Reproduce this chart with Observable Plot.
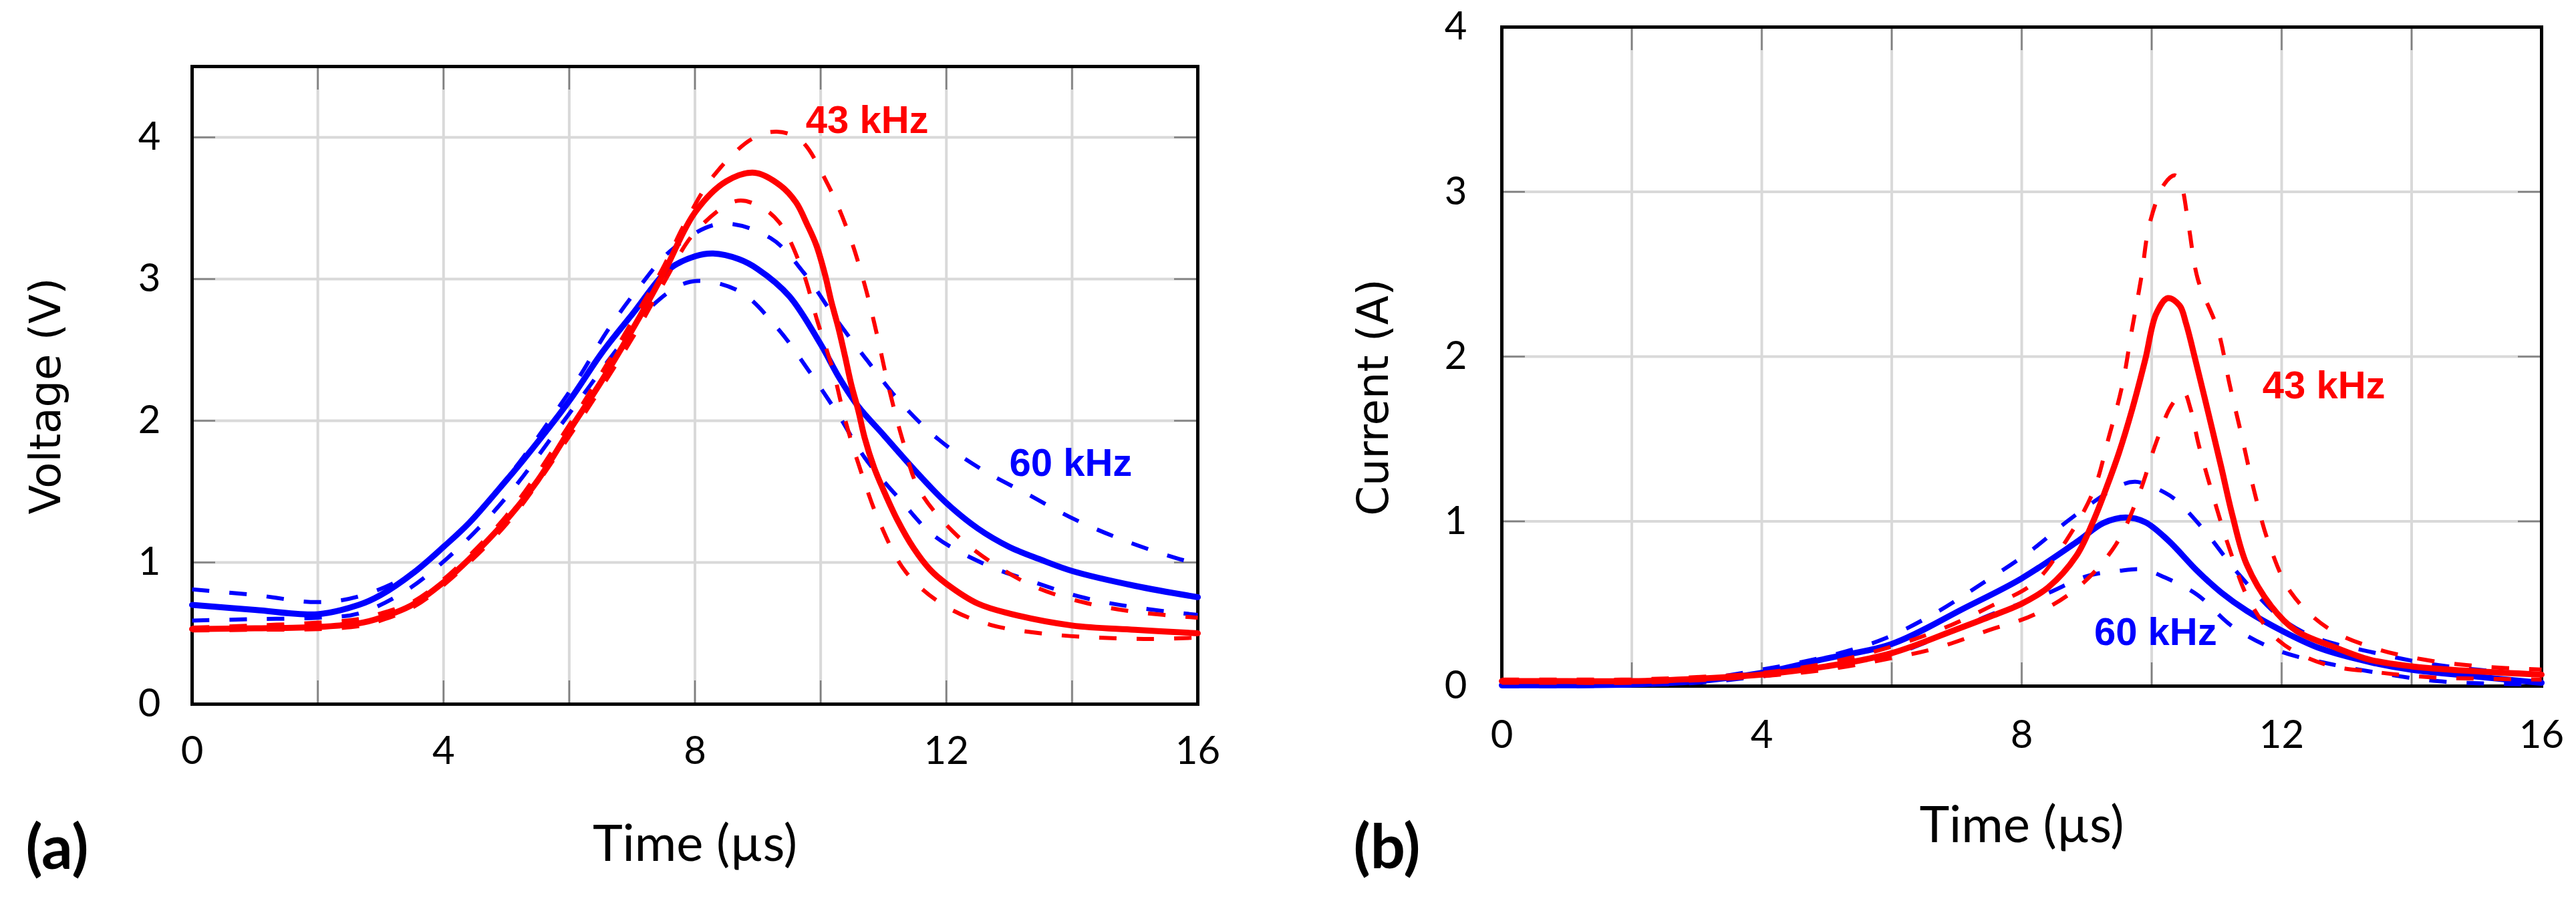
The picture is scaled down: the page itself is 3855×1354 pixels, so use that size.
<!DOCTYPE html>
<html><head><meta charset="utf-8">
<script src="https://cdn.jsdelivr.net/npm/d3@7"></script>
<script src="https://cdn.jsdelivr.net/npm/@observablehq/plot@0.6"></script>
<style>
html,body{margin:0;padding:0;background:#fff;}
#wrap{display:flex;width:3855px;height:1354px;overflow:hidden;}
#wrap svg{flex:none;}
</style></head><body><div id="wrap"></div>
<script>
// ---- tick values / labels ----
const xTickLabels = [0, 4, 8, 12, 16];
const xGridValues = [2, 4, 6, 8, 10, 12, 14];
const voltageTickLabels = [0, 1, 2, 3, 4];
const voltageGridValues = [1, 2, 3, 4];
const currentTickLabels = [0, 1, 2, 3, 4];
const currentGridValues = [1, 2, 3];
const frequencies = ["43 kHz", "60 kHz"];

// ---- (a) Voltage (V) vs time (µs) ----
const voltage43Mean = [[0,0.53],[1,0.535],[2,0.545],[2.65,0.57],[3,0.61],[3.5,0.70],[4,0.86],[4.4,1.02],[5,1.30],[5.5,1.58],[6,1.93],[6.5,2.27],[7,2.64],[7.5,3.04],[8,3.47],[8.5,3.69],[8.95,3.75],[9.36,3.66],[9.61,3.54],[9.78,3.39],[9.93,3.24],[10.07,3.03],[10.17,2.84],[10.28,2.66],[10.39,2.45],[10.49,2.25],[10.6,2.07],[10.7,1.88],[10.85,1.67],[11,1.51],[11.22,1.30],[11.48,1.10],[11.74,0.95],[12,0.85],[12.5,0.71],[13,0.64],[14,0.555],[15,0.525],[16,0.50]];
const voltage43Upper = [[0,0.54],[1,0.555],[2,0.575],[2.65,0.60],[3,0.64],[3.5,0.72],[4,0.88],[5,1.33],[6,1.97],[7,2.70],[7.48,3.07],[7.86,3.41],[8.3,3.73],[8.91,3.99],[9.3,4.04],[9.68,3.98],[10.1,3.68],[10.44,3.33],[10.7,2.96],[10.9,2.60],[11.08,2.24],[11.3,1.87],[11.56,1.52],[12.1,1.22],[12.72,1.00],[13.45,0.82],[14.26,0.71],[15.03,0.65],[16,0.61]];
const voltage43Lower = [[0,0.52],[1,0.525],[2,0.53],[2.65,0.55],[3,0.59],[3.5,0.68],[4,0.84],[5,1.27],[6,1.89],[7,2.58],[7.5,2.97],[8,3.33],[8.65,3.55],[9,3.52],[9.34,3.40],[9.71,3.06],[9.95,2.70],[10.2,2.35],[10.4,1.99],[10.65,1.63],[10.94,1.28],[11.36,0.93],[11.99,0.69],[12.7,0.56],[13.5,0.50],[14.4,0.47],[15.3,0.46],[16,0.47]];
const voltage60Mean = [[0,0.70],[1,0.665],[2,0.635],[2.65,0.70],[3,0.77],[3.53,0.93],[4,1.11],[4.41,1.28],[5,1.58],[5.3,1.74],[6,2.14],[6.52,2.48],[7,2.75],[7.59,3.07],[8,3.16],[8.29,3.18],[8.7,3.14],[9,3.07],[9.5,2.88],[10,2.54],[10.3,2.30],[10.6,2.10],[11,1.90],[11.5,1.65],[12,1.42],[12.5,1.24],[13,1.11],[13.5,1.02],[14,0.94],[15,0.835],[16,0.755]];
const voltage60Upper = [[0,0.81],[1,0.77],[2,0.72],[2.65,0.76],[3.44,0.91],[4.1,1.15],[4.68,1.42],[5.23,1.72],[5.7,2.01],[6.16,2.31],[6.6,2.63],[7.09,2.93],[7.64,3.21],[8.4,3.39],[9.2,3.29],[9.74,3.04],[10.24,2.72],[10.75,2.42],[11.27,2.13],[11.87,1.87],[12.55,1.66],[13.3,1.48],[14.06,1.30],[14.86,1.15],[15.66,1.03],[16,0.99]];
const voltage60Lower = [[0,0.59],[1,0.60],[2,0.61],[2.65,0.64],[3.4,0.80],[4.06,1.03],[4.66,1.29],[5.2,1.57],[5.7,1.87],[6.2,2.17],[6.75,2.50],[7.29,2.80],[7.92,2.98],[8.68,2.92],[9.3,2.66],[9.8,2.36],[10.27,2.05],[10.7,1.74],[11.27,1.44],[11.8,1.19],[12.6,0.99],[13.4,0.86],[14.2,0.75],[15.05,0.68],[16,0.63]];

// ---- (b) Current (A) vs time (µs) ----
const current43Mean = [[0,0.03],[1,0.03],[2,0.03],[3,0.045],[4,0.07],[5,0.12],[6,0.20],[7,0.345],[7.5,0.42],[8,0.50],[8.41,0.60],[8.84,0.79],[9.1,1.0],[9.3,1.2],[9.5,1.42],[9.7,1.68],[9.9,1.98],[10.07,2.26],[10.25,2.355],[10.43,2.31],[10.53,2.2],[10.66,2.0],[10.87,1.66],[11.07,1.33],[11.24,1.04],[11.46,0.74],[11.84,0.485],[12.22,0.337],[12.79,0.24],[13.36,0.16],[14,0.12],[14.9,0.092],[16,0.07]];
const current43Upper = [[0,0.04],[1,0.04],[2,0.04],[3,0.055],[4,0.08],[5,0.14],[6,0.24],[6.76,0.345],[7.5,0.48],[8.2,0.63],[8.68,0.88],[9.1,1.18],[9.34,1.51],[9.55,1.83],[9.69,2.15],[9.84,2.48],[9.97,2.81],[10.2,3.05],[10.36,3.10],[10.45,3.05],[10.57,2.79],[10.71,2.47],[11.02,2.16],[11.2,1.83],[11.39,1.51],[11.58,1.18],[11.8,0.87],[12.14,0.57],[12.7,0.355],[13.43,0.23],[14.2,0.16],[15.05,0.12],[16,0.10]];
const current43Lower = [[0,0.02],[1,0.02],[2,0.02],[3,0.035],[4,0.06],[5,0.10],[6,0.17],[6.68,0.23],[7.5,0.34],[8.2,0.435],[8.9,0.61],[9.45,0.86],[9.81,1.17],[10.07,1.48],[10.3,1.70],[10.49,1.785],[10.6,1.68],[10.72,1.47],[10.94,1.16],[11.2,0.83],[11.5,0.52],[11.96,0.275],[12.65,0.134],[13.45,0.085],[14.25,0.055],[15,0.045],[16,0.04]];
const current60Mean = [[0,0.005],[1,0.005],[2,0.01],[3,0.03],[4,0.08],[5,0.168],[6,0.256],[7.13,0.476],[8,0.654],[8.84,0.873],[9.26,0.99],[9.6,1.023],[9.9,0.995],[10.25,0.886],[10.7,0.70],[11.07,0.568],[11.46,0.458],[12,0.337],[12.6,0.228],[13.36,0.146],[14,0.099],[15,0.058],[15.87,0.024],[16,0.02]];
const current60Upper = [[0,0.01],[1,0.01],[2,0.015],[3,0.04],[4,0.10],[5.1,0.19],[5.9,0.29],[6.7,0.45],[7.34,0.61],[8.1,0.81],[8.8,1.03],[9.48,1.21],[9.75,1.24],[10.2,1.175],[10.4,1.12],[10.8,0.95],[11.36,0.67],[12,0.41],[12.55,0.29],[13.4,0.205],[14.2,0.14],[15,0.10],[16,0.07]];
const current60Lower = [[0,0.0],[1,0.0],[2,0.005],[3,0.02],[4,0.06],[5,0.11],[6,0.19],[6.8,0.31],[7.5,0.43],[8.36,0.557],[9,0.667],[9.5,0.70],[9.87,0.707],[10.2,0.66],[10.7,0.555],[11.25,0.36],[11.95,0.215],[12.8,0.13],[13.6,0.073],[14.4,0.03],[15.2,0.015],[16,0.01]];

// ---- annotations (data coordinates) ----
const voltageNotes = [{t:10.74, v:4.12, label:"43 kHz"}, {t:13.98, v:1.70, label:"60 kHz"}];
const currentNotes = [{t:12.65, v:1.82, label:"43 kHz"}, {t:10.06, v:0.325, label:"60 kHz"}];

const colorOf = {"43 kHz": "#ff0000", "60 kHz": "#0000ff"};
const toRows = (pairs, freq, kind) => pairs.map(([t, v]) => ({t, v, freq, kind}));

function makePanel(cfg) {
  const {width, height, mL, mR, mT, mB, yMax, yTicks, yGrid, groups, notes,
         yLabel, ylabDx, ylabDy, xlabDy, tag, tagDx, tagDy, xPad, yPad} = cfg;
  const innerW = width - mL - mR, innerH = height - mT - mB;
  const tickStyle = {stroke: "#7f7f7f", strokeWidth: 2.5, strokeOpacity: 1};
  const lineMarks = [];
  for (const g of groups) {
    lineMarks.push(Plot.line(toRows(g.upper, g.freq, "upper"), {x: "t", y: "v", curve: "catmull-rom", stroke: colorOf[g.freq], strokeWidth: 6, strokeDasharray: "26,30", strokeLinecap: "butt"}));
    lineMarks.push(Plot.line(toRows(g.lower, g.freq, "lower"), {x: "t", y: "v", curve: "catmull-rom", stroke: colorOf[g.freq], strokeWidth: 6, strokeDasharray: "26,30", strokeLinecap: "butt"}));
    lineMarks.push(Plot.line(toRows(g.mean, g.freq, "mean"), {x: "t", y: "v", curve: "catmull-rom", stroke: colorOf[g.freq], strokeWidth: 9}));
  }
  return Plot.plot({
    width, height,
    marginLeft: mL, marginRight: mR, marginTop: mT, marginBottom: mB,
    style: {fontFamily: "Lato, 'Open Sans', sans-serif", fontSize: "58px", color: "#000", background: "#fff", overflow: "visible"},
    x: {domain: [0, 16]},
    y: {domain: [0, yMax]},
    marks: [
      Plot.gridX(xGridValues, {stroke: "#d9d9d9", strokeOpacity: 1, strokeWidth: 4}),
      Plot.gridY(yGrid, {stroke: "#d9d9d9", strokeOpacity: 1, strokeWidth: 4}),
      Plot.ruleX(xGridValues, {...tickStyle, insetTop: innerH - 35}),
      Plot.ruleX(xGridValues, {...tickStyle, insetBottom: innerH - 35}),
      Plot.ruleY(yGrid, {...tickStyle, insetRight: innerW - 35}),
      Plot.ruleY(yGrid, {...tickStyle, insetLeft: innerW - 35}),
      Plot.frame({stroke: "#000", strokeWidth: 5}),
      Plot.axisX(xTickLabels, {tickSize: 0, tickPadding: xPad, tickFormat: d => String(d), fontSize: 58, fontFamily: "Lato", fill: "#000", label: null}),
      Plot.axisY(yTicks, {tickSize: 0, tickPadding: yPad, tickFormat: d => String(d), fontSize: 58, fontFamily: "Lato", fill: "#000", label: null}),
      ...lineMarks,
      Plot.text(notes, {x: "t", y: "v", text: "label", fill: d => colorOf[d.label], fontWeight: "bold", fontSize: 58, fontFamily: "Liberation Sans, Arial, sans-serif", textAnchor: "middle", lineAnchor: "middle"}),
      Plot.text([yLabel], {frameAnchor: "left", rotate: -90, dx: ylabDx, dy: ylabDy, fontSize: 64, fontFamily: "DejaVu Sans", fill: "#000", textAnchor: "middle", lineAnchor: "middle"}),
      Plot.text(["Time (µs)"], {frameAnchor: "bottom", dy: xlabDy, fontSize: 76, fontFamily: "Lato", fill: "#000", textAnchor: "middle", lineAnchor: "middle"}),
      Plot.text([tag], {frameAnchor: "bottom-left", dx: tagDx, dy: tagDy, fontSize: 92, fontWeight: "bold", fontFamily: "Lato", fill: "#000", textAnchor: "middle", lineAnchor: "middle"})
    ]
  });
}

const left = makePanel({
  width: 1900, height: 1354, mL: 287, mR: 108, mT: 99, mB: 301, yMax: 4.5,
  yTicks: voltageTickLabels, yGrid: voltageGridValues,
  groups: [
    {freq: frequencies[1], mean: voltage60Mean, upper: voltage60Upper, lower: voltage60Lower},
    {freq: frequencies[0], mean: voltage43Mean, upper: voltage43Upper, lower: voltage43Lower}
  ],
  notes: voltageNotes,
  yLabel: "Voltage (V)", ylabDx: -218, ylabDy: 16, xlabDy: 210,
  tag: "(a)", tagDx: -202, tagDy: 217, xPad: 48, yPad: 47
});
const right = makePanel({
  width: 1955, height: 1354, mL: 347, mR: 52, mT: 40, mB: 328, yMax: 4,
  yTicks: currentTickLabels, yGrid: currentGridValues,
  groups: [
    {freq: frequencies[1], mean: current60Mean, upper: current60Upper, lower: current60Lower},
    {freq: frequencies[0], mean: current43Mean, upper: current43Upper, lower: current43Lower}
  ],
  notes: currentNotes,
  yLabel: "Current (A)", ylabDx: -191, ylabDy: 61, xlabDy: 209,
  tag: "(b)", tagDx: -172, tagDy: 243, xPad: 51, yPad: 52
});
document.getElementById("wrap").append(left, right);
</script>
</body></html>
